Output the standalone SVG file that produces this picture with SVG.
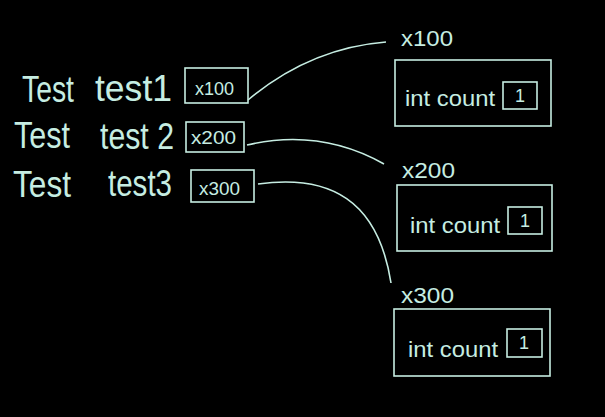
<svg xmlns="http://www.w3.org/2000/svg" width="605" height="417" viewBox="0 0 605 417">
<style>
.bx{fill:none;stroke:#c6ede2;stroke-width:1.6}
.ln{fill:none;stroke:#c6ede2;stroke-width:1.6}
text{fill:#c6ede2;font-family:"Liberation Sans",Arial,sans-serif;font-weight:normal}
.big{font-size:36px}
.mid{font-size:22px}
.sm{font-size:18px}
</style>
<rect width="605" height="417" fill="#000"/>
<g id="row1">
<text class="big" x="22" y="102" textLength="52" lengthAdjust="spacingAndGlyphs">Test</text>
<text class="big" x="95" y="101" textLength="77" lengthAdjust="spacingAndGlyphs">test1</text>
</g>
<g id="row2">
<text class="big" x="14" y="148" textLength="56" lengthAdjust="spacingAndGlyphs">Test</text>
<text class="big" x="100" y="149" textLength="74" lengthAdjust="spacingAndGlyphs">test 2</text>
</g>
<g id="row3">
<text class="big" x="13" y="197" textLength="58" lengthAdjust="spacingAndGlyphs">Test</text>
<text class="big" x="108" y="196" textLength="64" lengthAdjust="spacingAndGlyphs">test3</text>
</g>
<g id="ref1">
<rect class="bx" x="185" y="68" width="63" height="35"/>
<text class="sm" x="195" y="95" textLength="39" lengthAdjust="spacingAndGlyphs">x100</text>
</g>
<g id="ref2">
<rect class="bx" x="186" y="122" width="58" height="30"/>
<text class="sm" x="191" y="144" textLength="45" lengthAdjust="spacingAndGlyphs">x200</text>
</g>
<g id="ref3">
<rect class="bx" x="191" y="170" width="63" height="32"/>
<text class="sm" x="199" y="195" textLength="41" lengthAdjust="spacingAndGlyphs">x300</text>
</g>
<g id="obj1">
<text class="mid" x="401" y="46" textLength="52" lengthAdjust="spacingAndGlyphs">x100</text>
<rect class="bx" x="395" y="60" width="156" height="66"/>
<text class="mid" x="405" y="106" textLength="90" lengthAdjust="spacingAndGlyphs">int count</text>
<rect class="bx" x="503" y="82" width="34" height="27"/>
<text class="sm" x="520" y="102" text-anchor="middle">1</text>
</g>
<g id="obj2">
<text class="mid" x="402" y="178" textLength="53" lengthAdjust="spacingAndGlyphs">x200</text>
<rect class="bx" x="397" y="185" width="155" height="66"/>
<text class="mid" x="410" y="233" textLength="90" lengthAdjust="spacingAndGlyphs">int count</text>
<rect class="bx" x="508" y="207" width="34" height="27"/>
<text class="sm" x="525" y="227" text-anchor="middle">1</text>
</g>
<g id="obj3">
<text class="mid" x="401" y="303" textLength="53" lengthAdjust="spacingAndGlyphs">x300</text>
<rect class="bx" x="394" y="309" width="156" height="67"/>
<text class="mid" x="408" y="357" textLength="90" lengthAdjust="spacingAndGlyphs">int count</text>
<rect class="bx" x="507" y="329" width="35" height="28"/>
<text class="sm" x="524" y="349" text-anchor="middle">1</text>
</g>
<g id="connectors">
<path class="ln" d="M248,100 Q310,48 386,42"/>
<path class="ln" d="M247,145 Q320,128 384,164"/>
<path class="ln" d="M258,184 C330,174 378,200 391,283"/>
</g>
</svg>
